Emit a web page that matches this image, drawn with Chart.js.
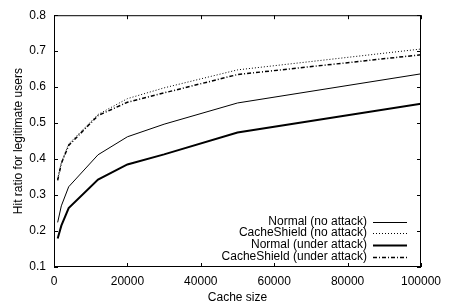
<!DOCTYPE html>
<html>
<head>
<meta charset="utf-8">
<script src="https://cdn.jsdelivr.net/npm/chart.js@4.4.1/dist/chart.umd.min.js"></script>
<style>
  html, body { margin: 0; padding: 0; background: #fff; }
  #wrap { width: 453px; height: 305px; }
</style>
</head>
<body>
<div id="wrap"><canvas id="chart"></canvas></div>
<script>
// cache sizes (x) and hit ratios
const cacheSizes = [1000, 2000, 4000, 12000, 20000, 30000, 50000, 100000];
const normalNoAttack = [0.224, 0.270, 0.323, 0.412, 0.462, 0.497, 0.556, 0.637];
const shieldNoAttack = [0.345, 0.390, 0.442, 0.524, 0.568, 0.598, 0.648, 0.706];
const normalAttack = [0.179, 0.215, 0.264, 0.343, 0.385, 0.413, 0.474, 0.554];
const shieldAttack = [0.341, 0.388, 0.438, 0.521, 0.558, 0.584, 0.635, 0.690];

const seriesLabels = ['Normal (no attack)', 'CacheShield (no attack)', 'Normal (under attack)', 'CacheShield (under attack)'];

const FONT = "'Liberation Sans', Arial, sans-serif";
Chart.defaults.font.family = FONT;
Chart.defaults.font.size = 12;
Chart.defaults.color = '#000';

const toPoints = ys => cacheSizes.map((x, i) => ({ x, y: ys[i] }));

const lineStyles = [
  { borderWidth: 1, borderDash: [] },
  { borderWidth: 1, borderDash: [1, 2] },
  { borderWidth: 2, borderDash: [] },
  { borderWidth: 1.5, borderDash: [4, 2, 1, 2] },
];

// frame with inward ticks on all four sides, gnuplot style
const framePlugin = {
  id: 'frame',
  afterDraw(chart) {
    const { ctx, chartArea: a, scales } = chart;
    ctx.save();
    ctx.strokeStyle = '#000';
    ctx.lineWidth = 1;
    ctx.strokeRect(a.left + 0.5, a.top + 0.5, a.right - a.left - 1, a.bottom - a.top - 1);
    const len = 4;
    ctx.beginPath();
    scales.x.ticks.forEach(t => {
      const px = Math.round(scales.x.getPixelForValue(t.value)) + 0.5;
      ctx.moveTo(px, a.bottom); ctx.lineTo(px, a.bottom - len);
      ctx.moveTo(px, a.top); ctx.lineTo(px, a.top + len);
    });
    scales.y.ticks.forEach(t => {
      const py = Math.round(scales.y.getPixelForValue(t.value)) + 0.5;
      ctx.moveTo(a.left, py); ctx.lineTo(a.left + len, py);
      ctx.moveTo(a.right, py); ctx.lineTo(a.right - len, py);
    });
    ctx.stroke();
    ctx.restore();
  }
};

// legend: right-aligned text with a line sample to its right
const keyPlugin = {
  id: 'key',
  afterDraw(chart) {
    const { ctx } = chart;
    const textRight = 367, x0 = 373, x1 = 407;
    const rows = [222, 233, 245, 257];
    ctx.save();
    ctx.font = '12px ' + FONT;
    ctx.textAlign = 'right';
    ctx.textBaseline = 'middle';
    ctx.fillStyle = '#000';
    chart.data.datasets.forEach((ds, i) => {
      const y = rows[i];
      ctx.fillText(ds.label, textRight, y);
      ctx.beginPath();
      ctx.lineWidth = ds.borderWidth;
      ctx.setLineDash(ds.borderDash);
      ctx.strokeStyle = '#000';
      ctx.moveTo(x0, y + 0.5); ctx.lineTo(x1, y + 0.5);
      ctx.stroke();
    });
    ctx.restore();
  }
};

const series = [normalNoAttack, shieldNoAttack, normalAttack, shieldAttack];

new Chart(document.getElementById('chart').getContext('2d'), {
  type: 'line',
  data: {
    datasets: series.map((ys, i) => ({
      label: seriesLabels[i],
      data: toPoints(ys),
      borderColor: '#000',
      borderWidth: lineStyles[i].borderWidth,
      borderDash: lineStyles[i].borderDash,
      pointRadius: 0,
      tension: 0,
      fill: false,
    }))
  },
  options: {
    responsive: true,
    maintainAspectRatio: false,
    animation: false,
    layout: { padding: { top: 12, right: 32, left: 0, bottom: 0 } },
    plugins: { legend: { display: false }, tooltip: { enabled: false } },
    scales: {
      x: {
        type: 'linear', min: 0, max: 100000,
        grid: { display: false, drawTicks: false },
        border: { display: false },
        ticks: { stepSize: 20000, padding: 7, maxRotation: 0, callback: v => String(v) },
        title: { display: true, text: 'Cache size', padding: { top: 5, bottom: 0 } },
        afterFit: s => { s.height = 38; }
      },
      y: {
        min: 0.1, max: 0.8,
        grid: { display: false, drawTicks: false },
        border: { display: false },
        ticks: { stepSize: 0.1, padding: 8, callback: v => v.toFixed(1) },
        title: { display: true, text: 'Hit ratio for legitimate users', padding: { top: 11, bottom: 4 } },
        afterFit: s => { s.width = 54; }
      }
    }
  },
  plugins: [framePlugin, keyPlugin]
});
</script>
</body>
</html>
